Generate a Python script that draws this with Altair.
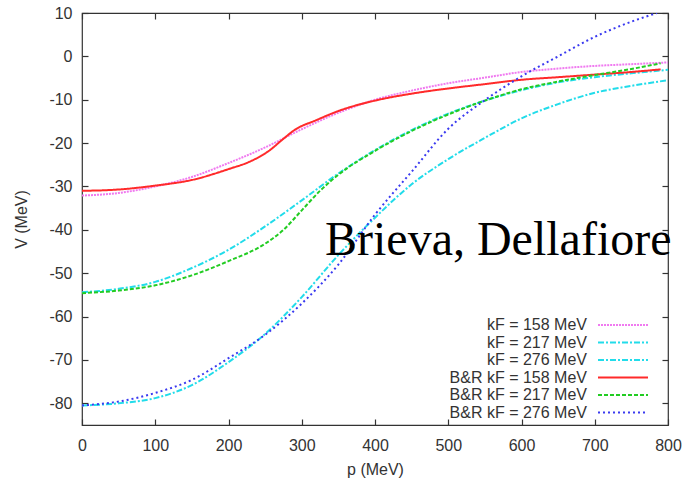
import altair as alt
import pandas as pd

# ---- data ----
series_names = ["kF = 158 MeV", "kF = 217 MeV", "kF = 276 MeV",
                "B&R kF = 158 MeV", "B&R kF = 217 MeV", "B&R kF = 276 MeV"]

p_kf158 = [0, 50, 100, 150, 200, 250, 300, 350, 400, 450, 500, 550, 600, 650, 700, 750, 800]
v_kf158 = [-32.1, -31.5, -30.0, -27.8, -24.6, -21.0, -16.8, -13.0, -10.0, -7.9, -6.2, -4.9, -3.6, -2.8, -2.2, -1.8, -1.4]

p_kf217 = [0, 50, 100, 150, 200, 250, 300, 350, 400, 450, 500, 550, 600, 650, 700, 750, 800]
v_kf217 = [-54.4, -53.6, -52.0, -48.8, -44.6, -39.2, -33.2, -27.0, -21.6, -17.0, -13.2, -10.2, -7.8, -6.0, -4.8, -3.9, -3.1]

p_kf276 = [0, 50, 100, 150, 200, 250, 300, 350, 400, 450, 500, 550, 600, 650, 700, 750, 800]
v_kf276 = [-80.5, -80.0, -78.8, -75.8, -70.5, -64.0, -55.5, -45.8, -37.2, -29.5, -23.7, -18.8, -14.3, -11.0, -8.4, -6.8, -5.5]

p_br158 = [0, 50, 100, 150, 200, 230, 255, 275, 290, 320, 350, 400, 450, 500, 550, 600, 650, 700, 750, 790]
v_br158 = [-31.0, -30.7, -29.8, -28.5, -26.0, -24.2, -21.8, -19.0, -17.0, -14.7, -12.6, -10.2, -8.6, -7.4, -6.4, -5.4, -4.8, -4.2, -3.6, -3.0]

p_br217 = [0, 50, 100, 150, 200, 250, 275, 300, 325, 350, 400, 450, 500, 550, 600, 650, 700, 750, 790]
v_br217 = [-54.6, -54.0, -52.8, -50.5, -47.2, -43.2, -40.0, -35.5, -31.0, -27.3, -21.8, -17.2, -13.4, -10.2, -7.6, -5.8, -4.3, -2.9, -1.6]

p_br276 = [0, 50, 100, 150, 200, 250, 300, 350, 400, 450, 500, 550, 600, 650, 700, 750, 785]
v_br276 = [-80.5, -79.6, -77.6, -74.6, -69.6, -64.2, -57.0, -48.0, -36.5, -26.6, -16.7, -10.1, -4.6, 0.0, 4.5, 8.0, 10.0]

x_ticks = [0, 100, 200, 300, 400, 500, 600, 700, 800]
y_ticks = [-80, -70, -60, -50, -40, -30, -20, -10, 0, 10]
annotation = "Brieva, Dellafiore"

# ---- styles ----
colors = ["#f07af0", "#22dcea", "#22dcea", "#ff2a2a", "#22cc22", "#3a3af0"]
dashes = [[2, 1], [6, 2, 2, 2], [6, 2, 2, 2], [1, 0], [4, 2], [2, 3]]

pairs = [(p_kf158, v_kf158), (p_kf217, v_kf217), (p_kf276, v_kf276),
         (p_br158, v_br158), (p_br217, v_br217), (p_br276, v_br276)]
rows = []
for name, (ps, vs) in zip(series_names, pairs):
    for p, v in zip(ps, vs):
        rows.append({"series": name, "p": p, "V": v})
df = pd.DataFrame(rows)

FONT = "Liberation Sans"
xscale = alt.Scale(domain=[0, 800], nice=False)
yscale = alt.Scale(domain=[-85, 10], nice=False, zero=False)
plain_label = "toString(datum.value)"

# legend sample: a long horizontal stroke (custom symbol path), label to its left
legend = alt.Legend(orient="none", legendX=533, legendY=304, title=None,
                    symbolType="M-5,0H5", symbolSize=100, symbolStrokeWidth=2,
                    labelAlign="right", labelOffset={"expr": "-44"},
                    rowPadding=1.5,
                    labelFontSize=16, labelFont=FONT, labelColor="#333", labelLimit=0,
                    padding=0)

lines = alt.Chart(df).mark_line(strokeWidth=2, clip=True, interpolate="monotone").encode(
    x=alt.X("p:Q", scale=xscale,
            axis=alt.Axis(orient="bottom", values=x_ticks, title="p (MeV)",
                          offset=-6, tickSize=6, domain=False, grid=False,
                          labelFlush=False, labelOverlap=False,
                          labelPadding=12, titlePadding=8, labelExpr=plain_label)),
    y=alt.Y("V:Q", scale=yscale,
            axis=alt.Axis(orient="left", values=y_ticks, title="V (MeV)",
                          offset=-6, tickSize=6, domain=False, grid=False,
                          labelFlush=False, labelOverlap=False,
                          labelPadding=10, titlePadding=19, labelExpr=plain_label)),
    color=alt.Color("series:N", scale=alt.Scale(domain=series_names, range=colors),
                    sort=series_names, legend=legend),
    strokeDash=alt.StrokeDash("series:N", scale=alt.Scale(domain=series_names, range=dashes),
                              sort=series_names, legend=legend),
    detail="series:N",
)

mirror = alt.Chart(df).mark_line(strokeOpacity=0).encode(
    x=alt.X("p:Q", scale=xscale,
            axis=alt.Axis(orient="top", values=x_ticks, title=None, labels=False,
                          offset=-6, tickSize=6, domain=False, grid=False)),
    y=alt.Y("V:Q", scale=yscale,
            axis=alt.Axis(orient="right", values=y_ticks, title=None, labels=False,
                          offset=-6, tickSize=6, domain=False, grid=False)),
    detail="series:N",
)

note = alt.Chart(pd.DataFrame({"t": [annotation]})).mark_text(
    align="left", baseline="alphabetic", font="Liberation Serif", fontSize=48,
    color="black").encode(x=alt.value(243), y=alt.value(242), text="t:N")

chart = alt.layer(lines, mirror, note).resolve_axis(
    x="independent", y="independent"
).properties(
    width=586, height=412,
    autosize=alt.AutoSizeParams(type="none"),
    padding={"left": 82, "top": 13, "right": 16, "bottom": 55},
).configure_view(
    stroke="#333", strokeWidth=1.2
).configure_axis(
    labelFont=FONT, labelFontSize=16, labelColor="#333",
    titleFont=FONT, titleFontSize=16, titleColor="#333", titleFontWeight="normal",
    tickColor="#333", tickWidth=1.2
)

chart.save("out.html", embed_options={"renderer": "svg", "actions": False})
